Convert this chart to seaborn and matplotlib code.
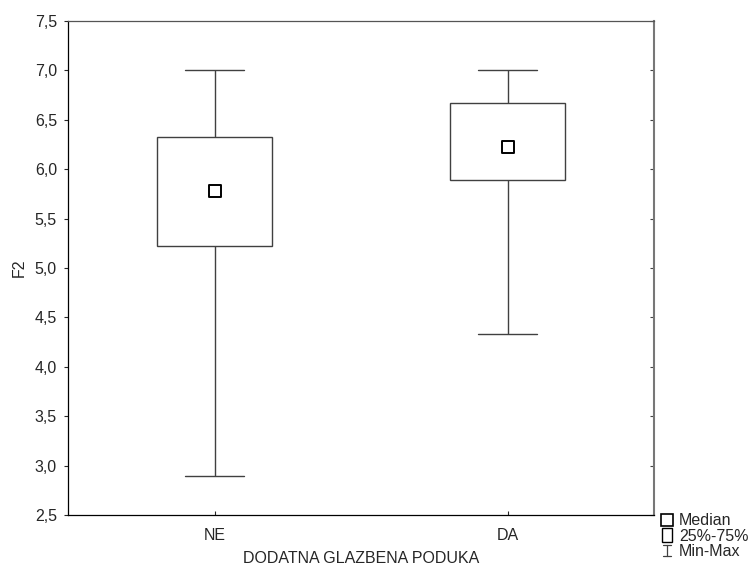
import numpy as np
import pandas as pd
import matplotlib
matplotlib.use("Agg")
import matplotlib.pyplot as plt
import seaborn as sns
from matplotlib.lines import Line2D
from matplotlib.patches import Rectangle
from matplotlib.legend_handler import HandlerBase

categories = ["NE", "DA"]
mins = [2.89, 4.33]
q1s = [5.22, 5.89]
medians = [5.78, 6.22]
q3s = [6.33, 6.67]
maxs = [7.00, 7.00]
yticks = [2.5, 3.0, 3.5, 4.0, 4.5, 5.0, 5.5, 6.0, 6.5, 7.0, 7.5]

rows = []
for c, a, b, m, d, e in zip(categories, mins, q1s, medians, q3s, maxs):
    for v in (a, b, m, d, e):
        rows.append({"grp": c, "F2": v})
df = pd.DataFrame(rows)
med_df = pd.DataFrame({"grp": categories, "F2": medians})

sns.set_style("white")
plt.rcParams["font.family"] = ["Liberation Sans", "DejaVu Sans"]
FS = 11.5

fig = plt.figure(figsize=(7.49, 5.66), dpi=100)
ax = fig.add_axes([68 / 749, 1 - 515 / 566, (654 - 68) / 749, (515 - 21) / 566])

lc = "#404040"
sns.boxplot(data=df, x="grp", y="F2", order=categories, whis=(0, 100), width=0.39,
            color="white", linewidth=1.0, ax=ax,
            boxprops=dict(edgecolor=lc, facecolor="white"),
            whiskerprops=dict(color=lc), capprops=dict(color=lc),
            medianprops=dict(visible=False), showfliers=False, showcaps=True)
for line in ax.lines:
    xd = line.get_xdata()
    if len(xd) == 2 and abs(xd[1] - xd[0]) > 0.01:
        cx = (xd[0] + xd[1]) / 2
        line.set_xdata([cx - 0.1, cx + 0.1])

sns.scatterplot(data=med_df, x="grp", y="F2", marker="s", s=70, facecolor="white",
                edgecolor="black", linewidth=1.4, ax=ax, zorder=5)

ax.set_xlim(-0.5, 1.5)
ax.set_ylim(2.5, 7.5)
ax.set_yticks(yticks)
ax.set_yticklabels([f"{t:.1f}".replace(".", ",") for t in yticks], fontsize=FS)
ax.set_xticks(range(len(categories)))
ax.set_xticklabels(categories, fontsize=FS)
ax.set_xlabel("DODATNA GLAZBENA PODUKA", fontsize=FS, labelpad=6)
ax.set_ylabel("F2", fontsize=FS, labelpad=6)
ax.tick_params(axis="y", left=True, right=False, direction="out", length=3, width=0.8, pad=5)
ax.tick_params(axis="x", bottom=True, direction="in", length=3, width=0.8, pad=9)
for s in ax.spines.values():
    s.set_visible(True)
    s.set_color("black")
    s.set_linewidth(0.9)
ax.spines["top"].set_color("#555555")
ax.spines["right"].set_visible(False)

sec = ax.secondary_yaxis("right")
sec.set_yticks(yticks)
sec.tick_params(axis="y", direction="in", length=3, width=0.8, labelright=False, colors="#444444")
sec.spines["right"].set_color("#777777")
sec.spines["right"].set_linewidth(1.5)


class WhiskerHandler(HandlerBase):
    def create_artists(self, legend, orig, xd, yd, w, h, fontsize, trans):
        cx = xd + w / 2
        l1 = Line2D([cx, cx], [yd, yd + h], color=lc, lw=0.9, transform=trans)
        l2 = Line2D([cx - w / 4, cx + w / 4], [yd, yd], color=lc, lw=0.9, transform=trans)
        l3 = Line2D([cx - w / 4, cx + w / 4], [yd + h, yd + h], color=lc, lw=0.9, transform=trans)
        return [l1, l2, l3]


class BoxHandler(HandlerBase):
    def create_artists(self, legend, orig, xd, yd, w, h, fontsize, trans):
        r = Rectangle((xd + w * 0.12, yd - 1), w * 0.76, h + 2, facecolor="white",
                      edgecolor="black", lw=1.0, transform=trans)
        return [r]


h_med = Line2D([], [], marker="s", linestyle="none", markerfacecolor="white",
               markeredgecolor="black", markersize=8.5, markeredgewidth=1.2)
h_box = Rectangle((0, 0), 1, 1)
h_wh = Line2D([], [])
fig.legend([h_med, h_box, h_wh], ["Median", "25%-75%", "Min-Max"],
           handler_map={h_box: BoxHandler(), h_wh: WhiskerHandler()},
           loc="lower left", bbox_to_anchor=(655 / 749, 0.004), frameon=False,
           fontsize=FS, handlelength=0.9, handletextpad=0.3, labelspacing=0.02,
           borderaxespad=0.15, borderpad=0.15)

fig.savefig("out.png", dpi=100)
